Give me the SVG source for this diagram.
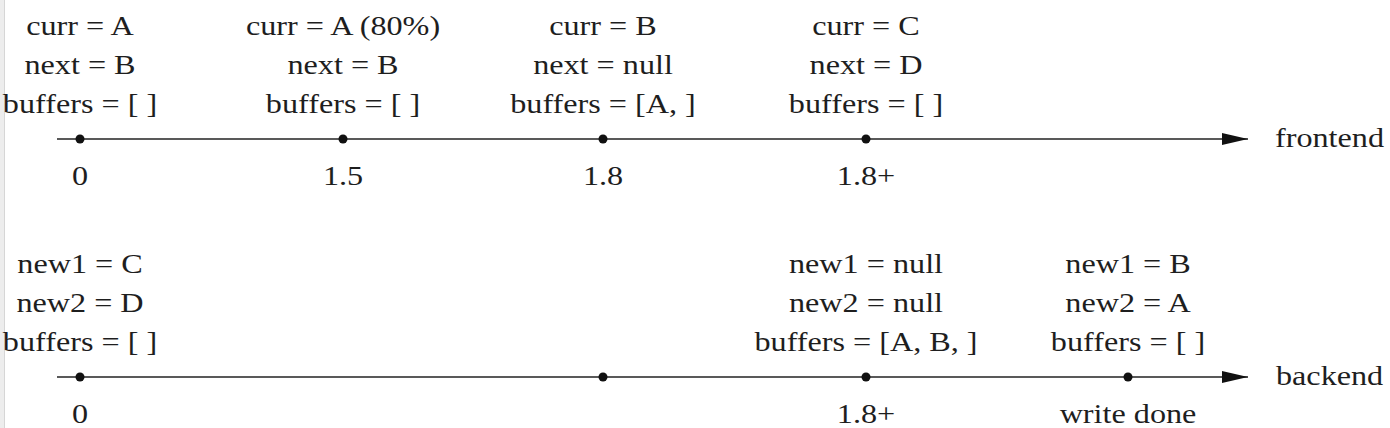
<svg xmlns="http://www.w3.org/2000/svg" width="1390" height="428" viewBox="0 0 1390 428">
  <style>
    text { font-family: "Liberation Serif", "Times New Roman", serif; font-size: 28px; fill: #1e1e1e; text-anchor: middle; }
    text.lbl { text-anchor: start; }
    .axis { stroke: #222; stroke-width: 1.6; fill: none; }
    .dot { fill: #111; }
  </style>
  <defs>
    <marker id="arr" viewBox="0 0 26 12" refX="26" refY="6" markerWidth="26" markerHeight="12" markerUnits="userSpaceOnUse" orient="auto">
      <path d="M0,0 L26,6 L0,12 Z" fill="#111"/>
    </marker>
  </defs>
  <rect x="0" y="0" width="1390" height="428" fill="#ffffff"/>
  <rect x="0" y="0" width="4" height="428" fill="#ededed"/>
  <line x1="4.5" y1="0" x2="4.5" y2="428" stroke="#d6d6d6" stroke-width="1"/>

  <g id="connectors">
    <line class="axis" x1="57" y1="139" x2="1248" y2="139" marker-end="url(#arr)"/>
    <line class="axis" x1="57" y1="377" x2="1248" y2="377" marker-end="url(#arr)"/>
  </g>

  <g id="axis-labels">
    <text class="lbl" transform="translate(1275,147) scale(1.15,1)">frontend</text>
    <text class="lbl" transform="translate(1276,385) scale(1.15,1)">backend</text>
  </g>

  <g id="f0">
    <text transform="translate(80,35) scale(1.15,1)">curr = A</text>
    <text transform="translate(80,74) scale(1.15,1)">next = B</text>
    <text transform="translate(80,113) scale(1.15,1)">buffers = [ ]</text>
    <circle class="dot" cx="80" cy="139" r="4.5"/>
    <text transform="translate(80,185) scale(1.15,1)">0</text>
  </g>
  <g id="f1">
    <text transform="translate(343,35) scale(1.15,1)">curr = A (80%)</text>
    <text transform="translate(343,74) scale(1.15,1)">next = B</text>
    <text transform="translate(343,113) scale(1.15,1)">buffers = [ ]</text>
    <circle class="dot" cx="343" cy="139" r="4.5"/>
    <text transform="translate(343,185) scale(1.15,1)">1.5</text>
  </g>
  <g id="f2">
    <text transform="translate(603,35) scale(1.15,1)">curr = B</text>
    <text transform="translate(603,74) scale(1.15,1)">next = null</text>
    <text transform="translate(603,113) scale(1.15,1)">buffers = [A, ]</text>
    <circle class="dot" cx="603" cy="139" r="4.5"/>
    <text transform="translate(603,185) scale(1.15,1)">1.8</text>
  </g>
  <g id="f3">
    <text transform="translate(866,35) scale(1.15,1)">curr = C</text>
    <text transform="translate(866,74) scale(1.15,1)">next = D</text>
    <text transform="translate(866,113) scale(1.15,1)">buffers = [ ]</text>
    <circle class="dot" cx="866" cy="139" r="4.5"/>
    <text transform="translate(866,185) scale(1.15,1)">1.8+</text>
  </g>

  <g id="b0">
    <text transform="translate(80,273) scale(1.15,1)">new1 = C</text>
    <text transform="translate(80,312) scale(1.15,1)">new2 = D</text>
    <text transform="translate(80,351) scale(1.15,1)">buffers = [ ]</text>
    <circle class="dot" cx="80" cy="377" r="4.5"/>
    <text transform="translate(80,423) scale(1.15,1)">0</text>
  </g>
  <g id="b1">
    <circle class="dot" cx="603" cy="377" r="4.5"/>
  </g>
  <g id="b2">
    <text transform="translate(866,273) scale(1.15,1)">new1 = null</text>
    <text transform="translate(866,312) scale(1.15,1)">new2 = null</text>
    <text transform="translate(866,351) scale(1.15,1)">buffers = [A, B, ]</text>
    <circle class="dot" cx="866" cy="377" r="4.5"/>
    <text transform="translate(866,423) scale(1.15,1)">1.8+</text>
  </g>
  <g id="b3">
    <text transform="translate(1128,273) scale(1.15,1)">new1 = B</text>
    <text transform="translate(1128,312) scale(1.15,1)">new2 = A</text>
    <text transform="translate(1128,351) scale(1.15,1)">buffers = [ ]</text>
    <circle class="dot" cx="1128" cy="377" r="4.5"/>
    <text transform="translate(1128,423) scale(1.15,1)">write done</text>
  </g>
</svg>
